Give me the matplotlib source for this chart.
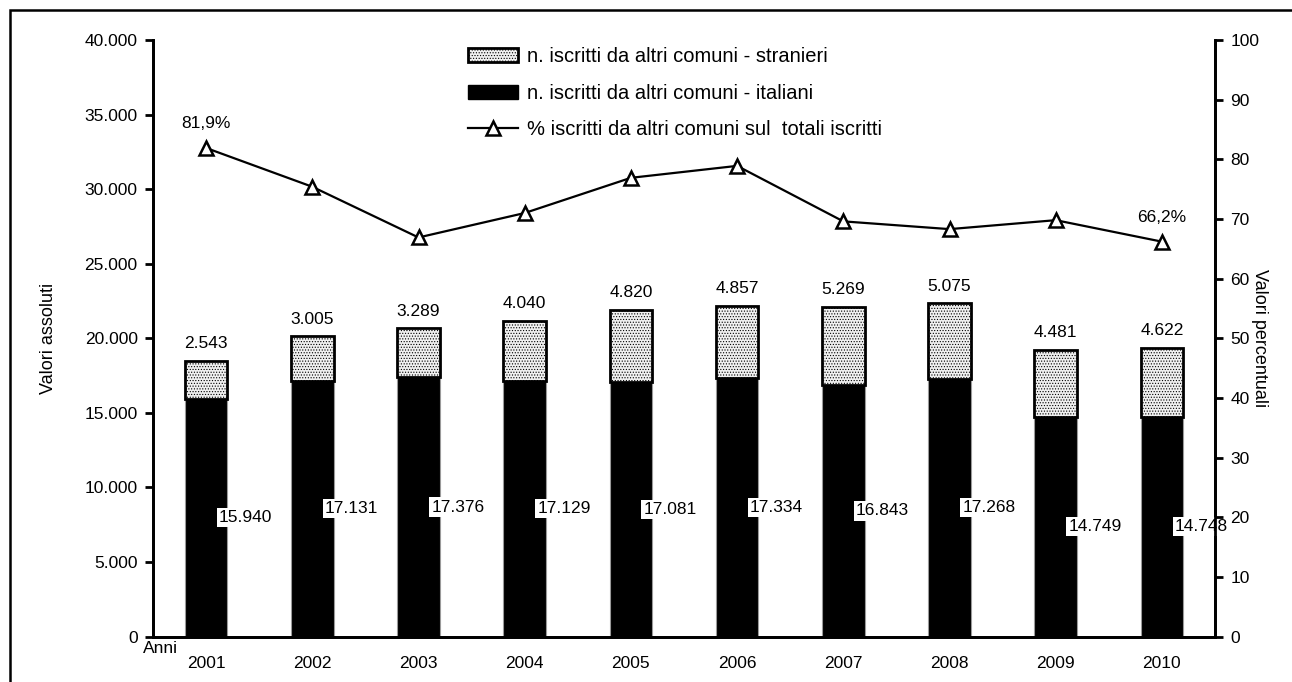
import matplotlib
matplotlib.use("Agg")
import matplotlib.pyplot as plt
import numpy as np
from matplotlib.patches import Rectangle
from matplotlib.ticker import FuncFormatter

plt.rcParams["font.family"] = ["Liberation Sans", "DejaVu Sans"]
plt.rcParams["hatch.color"] = "#d4d4d4"
plt.rcParams["hatch.linewidth"] = 0.5

# data
anni = ["2001", "2002", "2003", "2004", "2005", "2006", "2007", "2008", "2009", "2010"]
italiani = [15940, 17131, 17376, 17129, 17081, 17334, 16843, 17268, 14749, 14748]
stranieri = [2543, 3005, 3289, 4040, 4820, 4857, 5269, 5075, 4481, 4622]
perc = [81.9, 75.4, 66.9, 71.0, 76.9, 78.9, 69.6, 68.3, 69.8, 66.2]
perc_labels = {0: "81,9%", 9: "66,2%"}


def it_num(v):
    return f"{int(round(v)):,}".replace(",", ".")


W, H = 1292, 682
fig = plt.figure(figsize=(W / 100, H / 100), dpi=100)
ax = fig.add_axes([153 / W, 1 - 636.6 / H, (1215 - 153) / W, (636.6 - 40) / H])
ax2 = ax.twinx()

x = np.arange(len(anni))
bw = 0.4
fs = 12.5
strani_col = "#f0f0f0"

ax.bar(x, italiani, bw, color="black", edgecolor="#9a9a9a", linewidth=0.8, zorder=2)
ax.bar(x, stranieri, bw, bottom=italiani, color=strani_col, edgecolor="black",
       linewidth=2, hatch="......", zorder=2)

for i in x:
    ax.text(i + 0.37, italiani[i] / 2, it_num(italiani[i]), ha="center", va="center",
            fontsize=fs, zorder=5,
            bbox=dict(facecolor="white", edgecolor="none", pad=1.5))
    ax.annotate(it_num(stranieri[i]), (i, italiani[i] + stranieri[i]),
                xytext=(0, 7), textcoords="offset points", ha="center", va="bottom",
                fontsize=fs)

ax2.plot(x, perc, color="black", lw=1.6, marker="^", ms=10, mfc="white",
         mec="black", mew=1.8, zorder=4)
for i, lab in perc_labels.items():
    ax2.annotate(lab, (x[i], perc[i]), xytext=(0, 12), textcoords="offset points",
                 ha="center", va="bottom", fontsize=fs)

ax.set_xlim(-0.5, len(anni) - 0.5)
ax.set_ylim(0, 40000)
ax.set_yticks(np.arange(0, 40001, 5000))
ax.yaxis.set_major_formatter(FuncFormatter(lambda v, p: it_num(v)))
ax2.set_ylim(0, 100)
ax2.set_yticks(np.arange(0, 101, 10))

ax.set_xticks(x)
ax.set_xticklabels(anni)
ax.tick_params(axis="x", length=0, pad=14, labelsize=fs)
ax.tick_params(axis="y", direction="out", length=6, width=2, labelsize=fs, pad=5)
ax2.tick_params(axis="y", direction="out", length=6, width=2, labelsize=fs, pad=5)

for a in (ax, ax2):
    a.spines["top"].set_visible(False)
    for s in ("left", "right", "bottom"):
        a.spines[s].set_linewidth(2)

ax.set_ylabel("Valori assoluti", fontsize=13)
ax.yaxis.set_label_coords(-0.09, 0.5)
ax2.set_ylabel("Valori percentuali", fontsize=13, rotation=-90, va="bottom")
ax2.yaxis.set_label_coords(1.034, 0.5)
fig.text(143 / W, 1 - 641 / H, "Anni", ha="left", va="top", fontsize=fs)

handles = [
    Rectangle((0, 0), 1, 1, facecolor=strani_col, edgecolor="black", lw=2, hatch="......"),
    Rectangle((0, 0), 1, 1, facecolor="black", edgecolor="black", lw=1),
    plt.Line2D([], [], color="black", lw=1.6, marker="^", ms=10, mfc="white", mec="black", mew=1.8),
]
labels = [
    "n. iscritti da altri comuni - stranieri",
    "n. iscritti da altri comuni - italiani",
    "% iscritti da altri comuni sul  totali iscritti",
]
fig.legend(handles, labels, loc="upper left", bbox_to_anchor=(468 / W, 1 - 47 / H),
           frameon=False, fontsize=14.5, handlelength=2.5, handleheight=0.7,
           handletextpad=0.45, labelspacing=0.88, borderpad=0, borderaxespad=0)

# outer frame (only left and top edges fall inside the image)
fig.patches.append(Rectangle((10 / W, -0.1), 1.2, 1 - 10 / H + 0.1, transform=fig.transFigure,
                             fill=False, edgecolor="black", lw=1.8))

fig.savefig("out.png", dpi=100)
